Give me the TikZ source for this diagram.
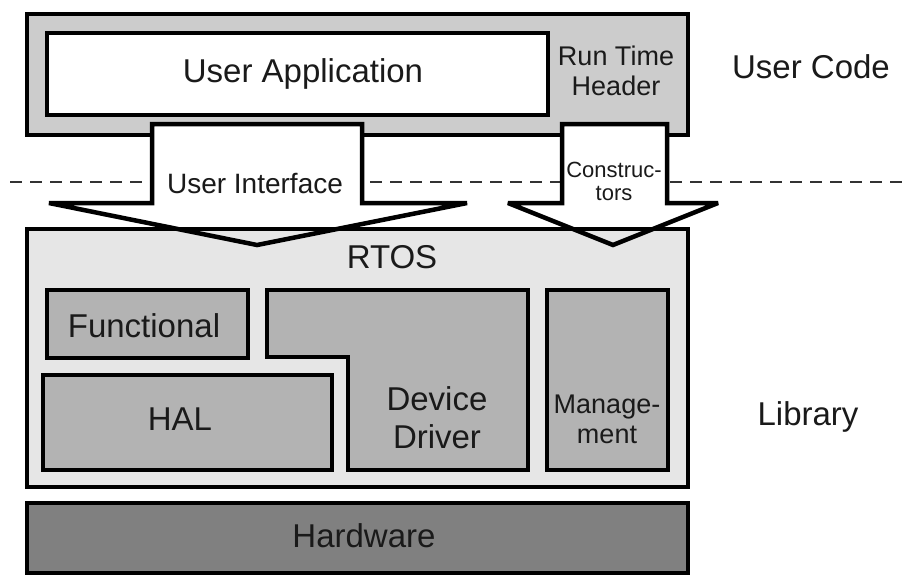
\documentclass[tikz,border=0pt]{standalone}
\usepackage{fontspec}
\setmainfont{Liberation Sans}
\definecolor{ucfill}{HTML}{CCCCCC}
\definecolor{rtosfill}{HTML}{E6E6E6}
\definecolor{modfill}{HTML}{B3B3B3}
\definecolor{hwfill}{HTML}{808080}
\definecolor{txtcol}{HTML}{1A1A1A}
\begin{document}
\begin{tikzpicture}[x=1pt,y=-1pt,
  box/.style={draw=black, line width=4.5pt, line join=miter},
  bigarrow/.style={line width=4.5pt, line join=miter, miter limit=3},
  lbl/.style={inner sep=0pt, outer sep=0pt, text=txtcol, align=center, anchor=base},
  fbig/.style={font=\fontsize{33}{38}\selectfont},
  fmid/.style={font=\fontsize{27}{30}\selectfont},
  fui/.style={font=\fontsize{28}{31}\selectfont},
  fsmall/.style={font=\fontsize{22}{23}\selectfont},
  sep/.style={draw=black!80, line width=1.5pt, dash pattern=on 12pt off 8pt}]
\useasboundingbox (0,0) rectangle (909,576);
% user code layer
\draw[box, fill=ucfill] (27,14) rectangle (688,135);
\draw[box, fill=white] (47,33) rectangle (548,115);
% separator
\coordinate (sepL) at (10,182);
\coordinate (sepR) at (909,182);
\draw[sep] (sepL) -- (sepR);
% arrow shapes (fill)
\def\uiarrow{(152,124) -- (362,124) -- (362,203) -- (467,203) -- (257,245) -- (49,203) -- (152,203) -- cycle}
\def\ctarrow{(562,124) -- (667,124) -- (667,203) -- (718,203) -- (613,245) -- (508,203) -- (562,203) -- cycle}
\fill[white] \uiarrow;
\fill[white] \ctarrow;
% RTOS layer
\draw[box, fill=rtosfill] (27,229) rectangle (688,487);
% arrow outlines
\draw[bigarrow] \uiarrow;
\draw[bigarrow] \ctarrow;
% modules
\draw[box, fill=modfill] (47,290) rectangle (248,358);
\draw[box, fill=modfill] (43,375) rectangle (332,470);
\draw[box, fill=modfill] (267,290) -- (528,290) -- (528,470) -- (348,470) -- (348,357) -- (267,357) -- cycle;
\draw[box, fill=modfill] (547,290) rectangle (668,470);
% hardware
\draw[box, fill=hwfill] (27,503) rectangle (688,573);
% labels
\node[lbl, fbig] (app) at (303,82) {User Application};
\node[lbl, fmid] (rth) at (616,95) {Run Time\\Header};
\node[lbl, fbig] (usercode) at (811,78) {User Code};
\node[lbl, fui] (ui) at (255,193) {User Interface};
\node[lbl, fsmall] (ctor) at (614,200) {Construc-\\tors};
\node[lbl, fbig] (rtos) at (392,268) {RTOS};
\node[lbl, fbig] (func) at (144,337) {Functional};
\node[lbl, fbig] (hal) at (180,430) {HAL};
\node[lbl, fbig] (dd) at (437,448) {Device\\Driver};
\node[lbl, fmid] (mgmt) at (607,443) {Manage-\\ment};
\node[lbl, fbig] (lib) at (808,425) {Library};
\node[lbl, fbig] (hw) at (364,547) {Hardware};
\end{tikzpicture}
\end{document}
